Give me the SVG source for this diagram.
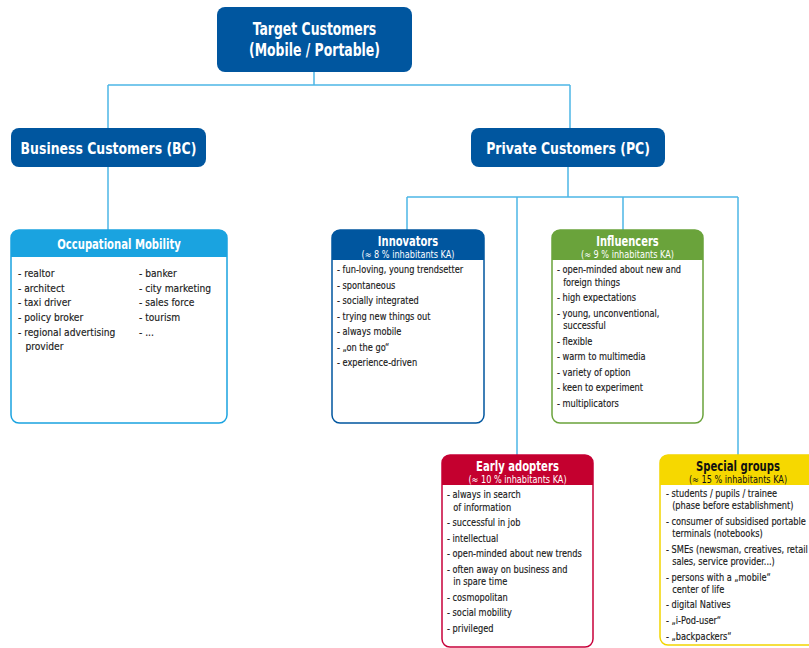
<svg xmlns="http://www.w3.org/2000/svg" width="809" height="648" viewBox="0 0 809 648">
  <style>
    .f { font-family: "DejaVu Sans Condensed", "Liberation Sans Narrow", "Liberation Sans", sans-serif; }
    .big { font-size: 17.5px; font-weight: bold; fill: #ffffff; text-anchor: middle; }
    .mid { font-size: 16.5px; font-weight: bold; fill: #ffffff; text-anchor: middle; }
    .ttl { font-size: 14px; font-weight: bold; fill: #ffffff; text-anchor: middle; }
    .sub { font-size: 10.3px; fill: #ffffff; text-anchor: middle; }
    .dark { fill: #111111; }
    .item { font-size: 10.4px; fill: #1a1a1a; stroke: #1a1a1a; stroke-width: 0.15; }
    .occ { font-size: 11px; fill: #1a1a1a; stroke: #1a1a1a; stroke-width: 0.15; }
    .conn { fill: none; stroke: #4db6e6; stroke-width: 1.5; }
    .card { fill: #ffffff; stroke-width: 1.5; }
  </style>

  <!-- connectors -->
  <g id="connectors">
    <path class="conn" d="M314,72 V85 M108,85 H570 M108,85 V128 M570,85 V128"/>
    <path class="conn" d="M108,167 V230"/>
    <path class="conn" d="M568,167 V197 M407,197 H738 M407,197 V230 M517,197 V455 M623,197 V230 M738,197 V455"/>
  </g>

  <!-- root -->
  <g id="target-customers">
    <rect x="217" y="7" width="195" height="65" rx="8" fill="#00569f"/>
    <text class="f big" transform="translate(314.5 35) scale(0.79 1)">Target Customers</text>
    <text class="f big" transform="translate(314.5 55.5) scale(0.79 1)">(Mobile / Portable)</text>
  </g>

  <g id="business-customers">
    <rect x="11" y="128" width="195" height="39" rx="8" fill="#00569f"/>
    <text class="f mid" transform="translate(108.5 153.5) scale(0.84 1)">Business Customers (BC)</text>
  </g>

  <g id="private-customers">
    <rect x="471" y="128" width="194" height="39" rx="8" fill="#00569f"/>
    <text class="f mid" transform="translate(568 153.5) scale(0.84 1)">Private Customers (PC)</text>
  </g>

  <!-- Occupational Mobility -->
  <g id="occupational-mobility">
    <rect class="card" x="11" y="230" width="216" height="193" rx="8" stroke="#1aa3e0"/>
    <path d="M11,257 V238 A8,8 0 0 1 19,230 H219 A8,8 0 0 1 227,238 V257 Z" fill="#1aa3e0"/>
    <text class="f ttl" transform="translate(119 248.5) scale(0.8 1)">Occupational Mobility</text>
    <g class="f occ" transform="translate(18 0) scale(0.925 1) translate(-18 0)">
      <text x="18" y="277">- realtor</text>
      <text x="18" y="292">- architect</text>
      <text x="18" y="306.5">- taxi driver</text>
      <text x="18" y="321">- policy broker</text>
      <text x="18" y="336">- regional advertising</text>
      <text x="26" y="350.5">provider</text>
    </g>
    <g class="f occ" transform="translate(139 0) scale(0.925 1) translate(-139 0)">
      <text x="139" y="277">- banker</text>
      <text x="139" y="292">- city marketing</text>
      <text x="139" y="306.5">- sales force</text>
      <text x="139" y="321">- tourism</text>
      <text x="139" y="336">- ...</text>
    </g>
  </g>

  <!-- Innovators -->
  <g id="innovators">
    <rect class="card" x="332" y="230" width="152" height="193" rx="8" stroke="#00569f"/>
    <path d="M332,260 V238 A8,8 0 0 1 340,230 H476 A8,8 0 0 1 484,238 V260 Z" fill="#00569f"/>
    <text class="f ttl" transform="translate(408 246) scale(0.79 1)">Innovators</text>
    <text class="f sub" transform="translate(408 257.5) scale(0.88 1)">(≈ 8 % inhabitants KA)</text>
    <g class="f item" transform="translate(337 0) scale(0.88 1) translate(-337 0)">
      <text x="337" y="273">- fun-loving, young trendsetter</text>
      <text x="337" y="289">- spontaneous</text>
      <text x="337" y="304">- socially integrated</text>
      <text x="337" y="320">- trying new things out</text>
      <text x="337" y="335">- always mobile</text>
      <text x="337" y="351">- „on the go“</text>
      <text x="337" y="366.5">- experience-driven</text>
    </g>
  </g>

  <!-- Influencers -->
  <g id="influencers">
    <rect class="card" x="552" y="230" width="151" height="193" rx="8" stroke="#6aa33b"/>
    <path d="M552,260 V238 A8,8 0 0 1 560,230 H695 A8,8 0 0 1 703,238 V260 Z" fill="#6aa33b"/>
    <text class="f ttl" transform="translate(627.5 246) scale(0.79 1)">Influencers</text>
    <text class="f sub" transform="translate(627.5 257.5) scale(0.88 1)">(≈ 9 % inhabitants KA)</text>
    <g class="f item" transform="translate(557 0) scale(0.88 1) translate(-557 0)">
      <text x="557" y="273">- open-minded about new and</text>
      <text x="564" y="286">foreign things</text>
      <text x="557" y="301">- high expectations</text>
      <text x="557" y="317">- young, unconventional,</text>
      <text x="564" y="329">successful</text>
      <text x="557" y="345">- flexible</text>
      <text x="557" y="360">- warm to multimedia</text>
      <text x="557" y="376">- variety of option</text>
      <text x="557" y="391">- keen to experiment</text>
      <text x="557" y="407">- multiplicators</text>
    </g>
  </g>

  <!-- Early adopters -->
  <g id="early-adopters">
    <rect class="card" x="442" y="455" width="151" height="192" rx="8" stroke="#c8003a"/>
    <path d="M442,485 V463 A8,8 0 0 1 450,455 H585 A8,8 0 0 1 593,463 V485 Z" fill="#c4002f"/>
    <text class="f ttl" transform="translate(517.5 471) scale(0.8 1)">Early adopters</text>
    <text class="f sub" transform="translate(517.5 482.5) scale(0.88 1)">(≈ 10 % inhabitants KA)</text>
    <g class="f item" transform="translate(447 0) scale(0.88 1) translate(-447 0)">
      <text x="447" y="498">- always in search</text>
      <text x="454" y="511">of information</text>
      <text x="447" y="526">- successful in job</text>
      <text x="447" y="542">- intellectual</text>
      <text x="447" y="557">- open-minded about new trends</text>
      <text x="447" y="573">- often away on business and</text>
      <text x="454" y="585">in spare time</text>
      <text x="447" y="601">- cosmopolitan</text>
      <text x="447" y="616">- social mobility</text>
      <text x="447" y="632">- privileged</text>
    </g>
  </g>

  <!-- Special groups -->
  <g id="special-groups">
    <rect class="card" x="660" y="455" width="160" height="190" rx="8" stroke="#f2d500"/>
    <path d="M660,485 V463 A8,8 0 0 1 668,455 H812 A8,8 0 0 1 820,463 V485 Z" fill="#f6d800"/>
    <text class="f ttl dark" transform="translate(738 471) scale(0.8 1)">Special groups</text>
    <text class="f sub dark" transform="translate(738 482.5) scale(0.88 1)">(≈ 15 % inhabitants KA)</text>
    <g class="f item" transform="translate(666 0) scale(0.88 1) translate(-666 0)">
      <text x="666" y="497">- students / pupils / trainee</text>
      <text x="673" y="509">(phase before establishment)</text>
      <text x="666" y="525">- consumer of subsidised portable</text>
      <text x="673" y="537">terminals (notebooks)</text>
      <text x="666" y="553">- SMEs (newsman, creatives, retail</text>
      <text x="673" y="565">sales, service provider...)</text>
      <text x="666" y="581">- persons with a „mobile“</text>
      <text x="673" y="593">center of life</text>
      <text x="666" y="608">- digital Natives</text>
      <text x="666" y="624">- „i-Pod-user“</text>
      <text x="666" y="640">- „backpackers“</text>
    </g>
  </g>
</svg>
